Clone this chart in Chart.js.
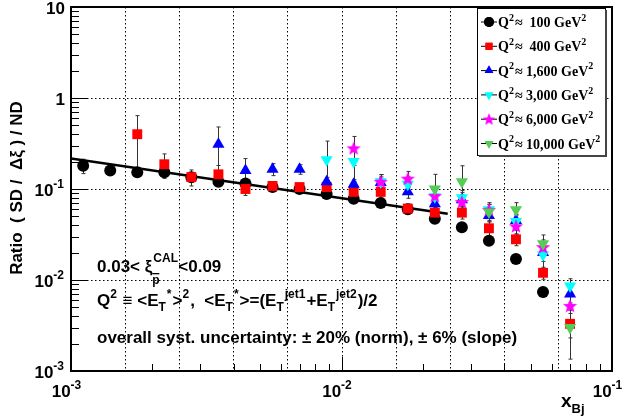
<!DOCTYPE html>
<html>
<head>
<meta charset="utf-8">
<script src="https://cdn.jsdelivr.net/npm/chart.js@4.4.0/dist/chart.umd.min.js"></script>
<style>
  html, body { margin: 0; padding: 0; background: #fff; }
  #wrap { width: 626px; height: 417px; }
</style>
</head>
<body>
<div id="wrap"><canvas id="c" width="626" height="417"></canvas></div>
<script>
// x bins (log10 of x_Bj centres)
const logX = [-2.955, -2.855, -2.755, -2.655, -2.555, -2.455, -2.355, -2.255, -2.155, -2.055,
              -1.955, -1.855, -1.755, -1.655, -1.555, -1.455, -1.355, -1.255, -1.155];

const q100   = [0.18, 0.16, 0.153, 0.153, 0.135, 0.12, 0.115, 0.105, 0.10, 0.088, 0.078, 0.07, 0.06, 0.047, 0.038, 0.027, 0.017, 0.0074, null];
const q400   = [null, null, 0.40, 0.187, 0.135, 0.145, 0.10, 0.108, 0.105, 0.105, 0.093, 0.093, 0.061, 0.055, 0.055, 0.037, 0.028, 0.012, 0.0033];
const q1600  = [null, null, null, null, null, 0.31, 0.16, 0.165, 0.165, 0.12, 0.113, 0.118, 0.093, 0.069, 0.076, 0.051, 0.045, 0.020, 0.007];
const q3000  = [null, null, null, null, null, null, null, null, null, 0.21, 0.20, 0.12, 0.113, 0.082, 0.080, 0.059, 0.044, 0.019, 0.0086];
const q6000  = [null, null, null, null, null, null, null, null, null, null, 0.28, 0.12, 0.13, 0.084, 0.072, 0.059, 0.039, 0.023, 0.0052];
const q10000 = [null, null, null, null, null, null, null, null, null, null, null, null, null, 0.10, 0.12, 0.056, 0.059, 0.025, 0.003];

// relative errors (fraction of value)
const e100   = [0.18, 0.1, 0.1, 0.1, 0.08, 0.08, 0.08, 0.08, 0.08, 0.08, 0.08, 0.08, 0.08, 0.1, 0.1, 0.1, 0.1, 0.12, 0];
const e400   = [0, 0, 0.6, 0.3, 0.2, 0.25, 0.15, 0.1, 0.1, 0.1, 0.1, 0.12, 0.12, 0.15, 0.15, 0.2, 0.15, 0.15, 0.3];
const e1600  = [0, 0, 0, 0, 0, 0.55, 0.35, 0.15, 0.12, 0.12, 0.12, 0.15, 0.15, 0.15, 0.2, 0.15, 0.15, 0.2, 0.2];
const e3000  = [0, 0, 0, 0, 0, 0, 0, 0, 0, 0.6, 0.4, 0.2, 0.2, 0.25, 0.2, 0.2, 0.2, 0.3, 0.2];
const e6000  = [0, 0, 0, 0, 0, 0, 0, 0, 0, 0, 0.35, 0.2, 0.2, 0.25, 0.2, 0.15, 0.2, 0.2, 0.3];
const e10000 = [0, 0, 0, 0, 0, 0, 0, 0, 0, 0, 0, 0, 0, 0.45, 0.5, 0.2, 0.2, 0.25, 0.55];

// power-law fit end points
const fitX = [0.001, 0.0247];
const fitY = [0.217, 0.0535];

const legendLabels = ['100', '400', '1,600', '3,000', '6,000', '10,000'];

const starCanvas = (() => {
  const c = document.createElement('canvas');
  c.width = 16; c.height = 16;
  const g = c.getContext('2d');
  g.fillStyle = '#ff00ff';
  g.beginPath();
  for (let i = 0; i < 10; i++) {
    const r = i % 2 === 0 ? 7.5 : 3.2;
    const a = -Math.PI / 2 + i * Math.PI / 5;
    g.lineTo(8 + r * Math.cos(a), 8.5 + r * Math.sin(a));
  }
  g.closePath(); g.fill();
  return c;
})();

const series = [
  { v: q100, e: e100, color: '#000000', style: 'circle', rot: 0, r: 6 },
  { v: q400, e: e400, color: '#ff0000', style: 'rect', rot: 0, r: 7 },
  { v: q1600, e: e1600, color: '#0000ff', style: 'triangle', rot: 0, r: 7 },
  { v: q3000, e: e3000, color: '#00ffff', style: 'triangle', rot: 180, r: 7 },
  { v: q6000, e: e6000, color: '#ff00ff', style: starCanvas, rot: 0, r: 7 },
  { v: q10000, e: e10000, color: '#55cc55', style: 'triangle', rot: 180, r: 7 }
];

const datasets = series.map((s, k) => ({
  label: legendLabels[k],
  data: logX.map((lx, i) => s.v[i] == null ? null : { x: Math.pow(10, lx), y: s.v[i], err: s.e[i] }).filter(p => p),
  showLine: false,
  pointStyle: s.style,
  rotation: s.rot,
  pointRadius: s.r,
  backgroundColor: s.color,
  borderColor: s.color,
  borderWidth: 0,
  order: 6 - k
}));
datasets.push({
  label: 'fit',
  data: fitX.map((x, i) => ({ x, y: fitY[i] })),
  showLine: true, pointRadius: 0, borderColor: '#000', borderWidth: 2.5, order: 10
});

const SANS = '"Liberation Sans", Arial, sans-serif';

const rich = (ctx, x, y, parts, size, family) => {
  let cx = x;
  parts.forEach(p => {
    const [t, m] = Array.isArray(p) ? p : [p, ''];
    const fs = Math.round(m ? size * 0.68 : size);
    const dy = m === 'sup' ? -size * 0.45 : m === 'sub' ? size * 0.3 : 0;
    ctx.font = `bold ${fs}px ${family}`;
    ctx.fillText(t, cx, y + dy);
    cx += ctx.measureText(t).width + (m ? 1 : 0);
  });
  return cx;
};

const decorations = {
  id: 'decorations',
  beforeDatasetsDraw(chart) {
    const { ctx, chartArea: a, scales: { x, y } } = chart;
    ctx.save();
    ctx.strokeStyle = '#000';
    ctx.setLineDash([1.5, 2.5]);
    ctx.lineWidth = 1;
    for (let k = 1; k < 10; k++) {
      const px = Math.round(x.getPixelForValue(Math.pow(10, -3 + 0.2 * k))) + 0.5;
      ctx.beginPath(); ctx.moveTo(px, a.top); ctx.lineTo(px, a.bottom); ctx.stroke();
    }
    [-2, -1, 0].forEach(e => {
      const py = Math.round(y.getPixelForValue(Math.pow(10, e))) + 0.5;
      ctx.beginPath(); ctx.moveTo(a.left, py); ctx.lineTo(a.right, py); ctx.stroke();
    });
    ctx.setLineDash([]);
    // error bars
    chart.data.datasets.forEach(ds => {
      ds.data.forEach(p => {
        if (!p.err) return;
        const px = Math.round(x.getPixelForValue(p.x)) + 0.5;
        const y1 = y.getPixelForValue(p.y * (1 + p.err));
        const y2 = y.getPixelForValue(p.y * Math.max(0.05, 1 - p.err));
        ctx.strokeStyle = '#333';
        ctx.beginPath(); ctx.moveTo(px, y1); ctx.lineTo(px, y2);
        ctx.moveTo(px - 2, y1); ctx.lineTo(px + 2, y1);
        ctx.moveTo(px - 2, y2); ctx.lineTo(px + 2, y2); ctx.stroke();
      });
    });
    ctx.restore();
  },
  afterDraw(chart) {
    const { ctx, chartArea: a, scales: { x, y } } = chart;
    ctx.save();
    ctx.strokeStyle = '#000';
    ctx.lineWidth = 2;
    ctx.strokeRect(a.left, a.top, a.right - a.left, a.bottom - a.top);
    ctx.lineWidth = 1;
    for (let e = -3; e < -1; e++) {
      for (let m = 1; m < 10; m++) {
        const px = Math.round(x.getPixelForValue(m * Math.pow(10, e))) + 0.5;
        const len = m === 1 ? 14 : 7;
        ctx.beginPath(); ctx.moveTo(px, a.bottom); ctx.lineTo(px, a.bottom - len); ctx.stroke();
      }
    }
    for (let e = -3; e < 1; e++) {
      for (let m = 1; m < 10; m++) {
        const py = Math.round(y.getPixelForValue(m * Math.pow(10, e))) + 0.5;
        const len = m === 1 ? 16 : 8;
        ctx.beginPath(); ctx.moveTo(a.left, py); ctx.lineTo(a.left + len, py); ctx.stroke();
      }
    }
    ctx.fillStyle = '#000';
    ctx.textBaseline = 'alphabetic';
    const width = (t, s) => {
      ctx.font = `bold 17px ${SANS}`;
      let w = ctx.measureText(t).width;
      ctx.font = `bold 12px ${SANS}`;
      return w + (s ? ctx.measureText(s).width + 1 : 0);
    };
    [[-3, '-3'], [-2, '-2'], [-1, '-1']].forEach(([e, s]) => {
      const px = x.getPixelForValue(Math.pow(10, e));
      const w = width('10', s);
      rich(ctx, px - w / 2 - 4, a.bottom + 26, ['10', [s, 'sup']], 17, SANS);
    });
    [[-3, '-3'], [-2, '-2'], [-1, '-1'], [0, ''], [1, '']].forEach(([e, s]) => {
      const py = y.getPixelForValue(Math.pow(10, e));
      const t = e === 0 ? '1' : '10';
      const w = width(t, s);
      rich(ctx, a.left - 6 - w, py + 7, s ? [t, [s, 'sup']] : [t], 17, SANS);
    });
    // x title
    rich(ctx, 561, 407, ['x', ['Bj', 'sub']], 19, SANS);
    // y title
    ctx.save();
    ctx.translate(22, 188);
    ctx.rotate(-Math.PI / 2);
    ctx.font = `bold 17px ${SANS}`;
    ctx.textAlign = 'center';
    ctx.fillText('Ratio  ( SD /  Δξ ) / ND', 0, 0);
    ctx.restore();
    // annotations
    let cx = rich(ctx, 97, 272, ['0.03< ξ'], 17, SANS);
    ctx.font = `bold 12px ${SANS}`;
    ctx.fillText('CAL', cx + 1, 262);
    ctx.fillText('p', cx, 284);
    ctx.fillRect(cx, 273, 7, 1.3);
    rich(ctx, cx + 26, 272, ['<0.09'], 17, SANS);
    rich(ctx, 97, 306, ['Q', ['2', 'sup'], ' ≡ <E', ['T', 'sub'], ['*', 'sup'], '>', ['2', 'sup'], ',  <E', ['T', 'sub'], ['*', 'sup'],
      '>=(E', ['T', 'sub'], ['jet1', 'sup'], '+E', ['T', 'sub'], ['jet2', 'sup'], ')/2'], 17, SANS);
    rich(ctx, 97, 343, ['overall syst. uncertainty: ± 20% (norm), ± 6% (slope)'], 17, SANS);
    // legend
    ctx.fillStyle = '#fff';
    ctx.fillRect(477, 8, 128, 147);
    ctx.strokeStyle = '#000'; ctx.lineWidth = 1;
    ctx.strokeRect(477.5, 8.5, 128, 147);
    ctx.fillStyle = '#444';
    ctx.fillRect(605, 10, 2, 147);
    ctx.fillRect(479, 155, 128, 2);
    const serif = '"Liberation Serif", "DejaVu Serif", serif';
    series.forEach((s, k) => {
      const ly = 22 + k * 24.3;
      ctx.strokeStyle = '#000'; ctx.lineWidth = 1;
      ctx.beginPath(); ctx.moveTo(481, ly); ctx.lineTo(497, ly); ctx.stroke();
      ctx.fillStyle = s.color;
      if (typeof s.style === 'string') {
        ctx.beginPath();
        Chart.helpers.drawPoint(ctx, { pointStyle: s.style, rotation: s.rot, radius: 5, borderWidth: 0 }, 489, ly);
        ctx.fill();
      } else {
        ctx.drawImage(s.style, 482, ly - 7, 14, 14);
      }
      ctx.fillStyle = '#000';
      const pad = legendLabels[k].length <= 3 ? '  ' : ' ';
      rich(ctx, 498, ly + 5, ['Q', ['2', 'sup'], '≈' + pad + legendLabels[k] + ' GeV', ['2', 'sup']], 14, serif);
    });
    ctx.restore();
  }
};

new Chart(document.getElementById('c'), {
  type: 'scatter',
  data: { datasets },
  options: {
    responsive: false,
    animation: false,
    layout: { padding: { left: 71, right: 14, top: 3, bottom: 46 } },
    plugins: { legend: { display: false }, tooltip: { enabled: false } },
    scales: {
      x: {
        type: 'logarithmic', min: 0.001, max: 0.1,
        ticks: { display: false }, grid: { display: false }, border: { display: false },
        afterFit: s => { s.height = 0; }
      },
      y: {
        type: 'logarithmic', min: 0.001, max: 10,
        ticks: { display: false }, grid: { display: false }, border: { display: false },
        afterFit: s => { s.width = 0; }
      }
    }
  },
  plugins: [decorations]
});
</script>
</body>
</html>
